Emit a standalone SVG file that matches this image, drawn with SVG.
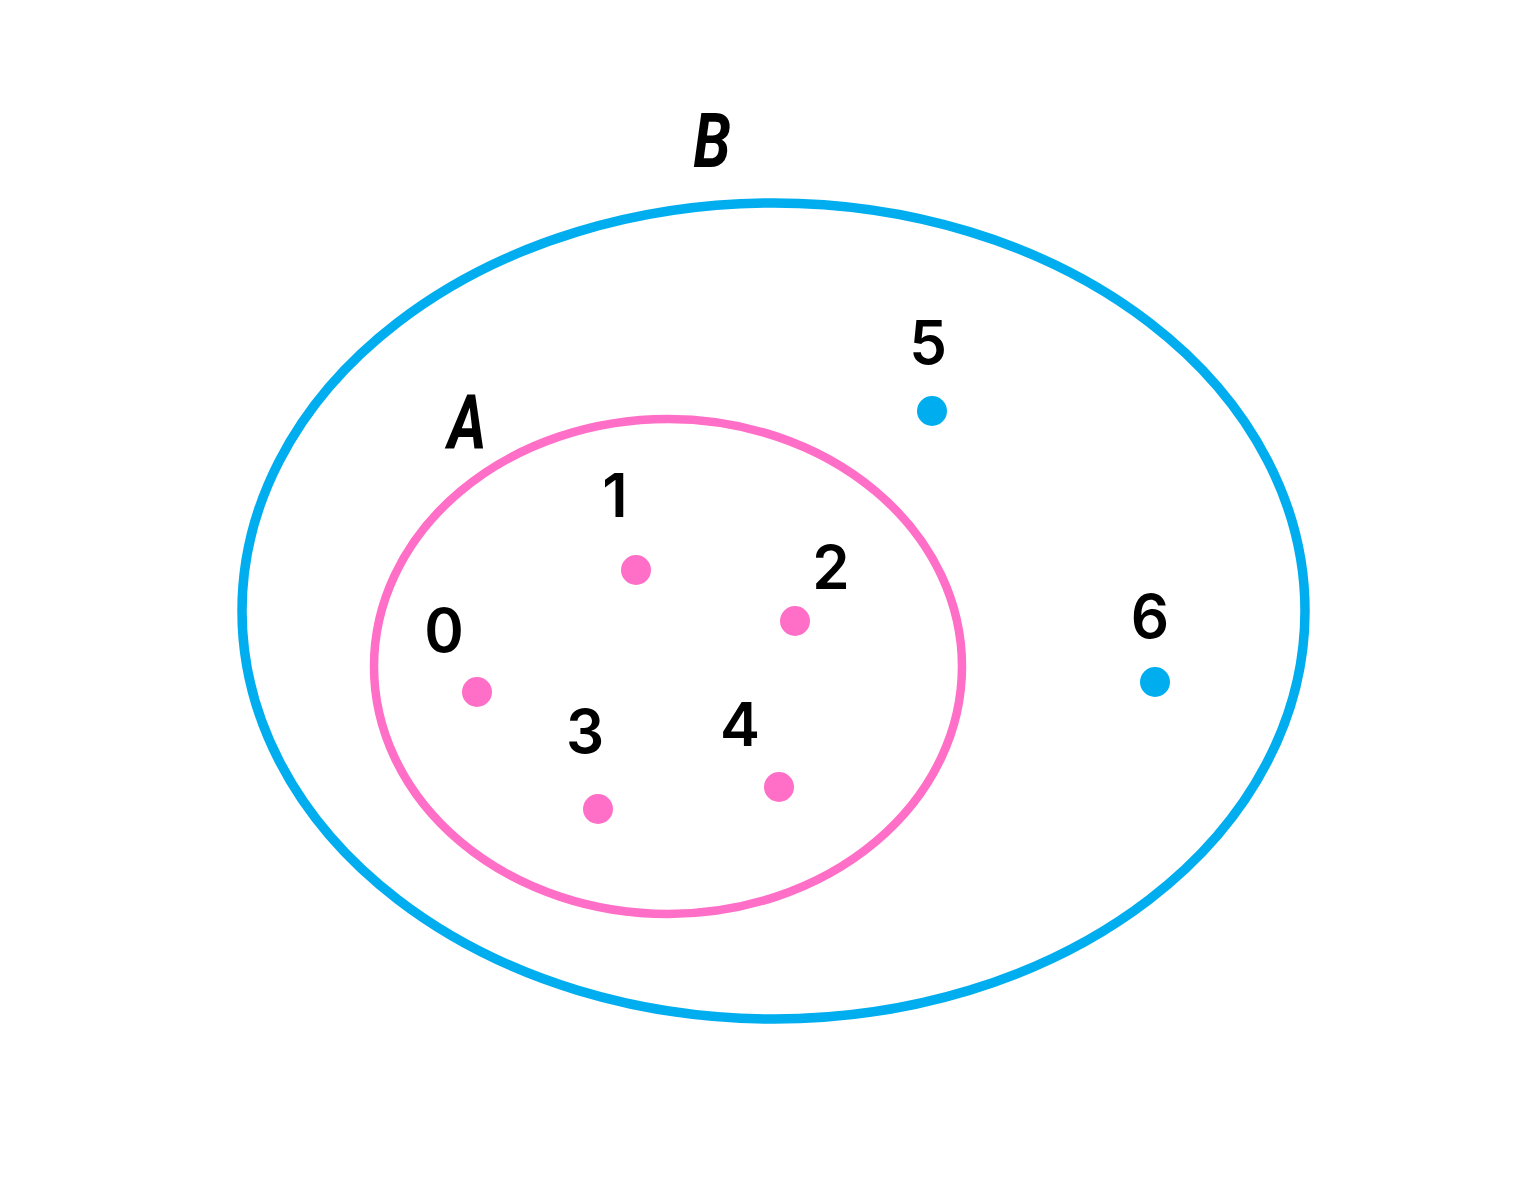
<svg xmlns="http://www.w3.org/2000/svg" width="1536" height="1179" viewBox="0 0 1536 1179">
<style>
.num{font-family:Inter,"Liberation Sans",Arial,sans-serif;font-weight:600;font-size:60px;fill:#000;text-anchor:middle}
.set{font-family:Roboto,"Liberation Sans",sans-serif;font-style:italic;font-weight:bold;font-size:76px;fill:#000;text-anchor:middle}
.pink{fill:#FF6EC7}
.blue{fill:#00AEEF}
</style>
<rect width="1536" height="1179" fill="#fff"/>
<g id="setB">
<ellipse cx="773.5" cy="611" rx="531.5" ry="408" fill="none" stroke="#00AEEF" stroke-width="9.5"/>
<text class="set" transform="translate(712,167) scale(0.8,1)">B</text>
</g>
<g id="setA">
<ellipse cx="668" cy="666.5" rx="294" ry="247.5" fill="none" stroke="#FF6EC7" stroke-width="8.5"/>
<text class="set" transform="translate(467,448) scale(0.78,1)">A</text>
</g>
<g id="e0"><circle class="pink" cx="477" cy="692" r="15"/><text class="num" x="444" y="652">0</text></g>
<g id="e1"><circle class="pink" cx="636" cy="570" r="15"/><text class="num" x="615" y="517">1</text></g>
<g id="e2"><circle class="pink" cx="795" cy="621" r="15"/><text class="num" x="831" y="589">2</text></g>
<g id="e3"><circle class="pink" cx="598" cy="809" r="15"/><text class="num" x="585" y="753">3</text></g>
<g id="e4"><circle class="pink" cx="779" cy="787" r="15"/><text class="num" x="740" y="746">4</text></g>
<g id="e5"><circle class="blue" cx="932" cy="411" r="15"/><text class="num" x="928" y="364">5</text></g>
<g id="e6"><circle class="blue" cx="1155" cy="682" r="15"/><text class="num" x="1150" y="638">6</text></g>
<g id="connectors"></g>
</svg>
